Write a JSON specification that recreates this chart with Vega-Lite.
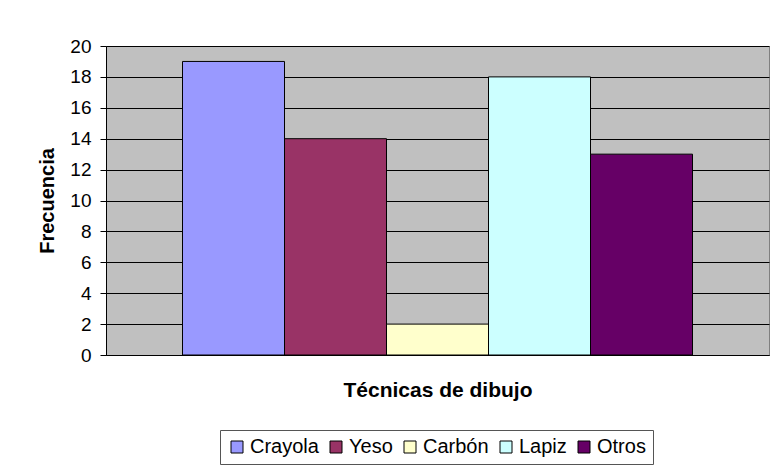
{
  "$schema": "https://vega.github.io/schema/vega-lite/v6.json",
  "width": 663,
  "height": 309,
  "autosize": "none",
  "padding": {"left": 106, "top": 46, "right": 4, "bottom": 112},
  "background": "white",
  "config": {
    "font": "Liberation Sans",
    "view": {"fill": "#C0C0C0", "stroke": "#808080", "strokeWidth": 1}
  },
  "data": {
    "values": [
      {"tecnica": "Crayola", "frecuencia": 19},
      {"tecnica": "Yeso", "frecuencia": 14},
      {"tecnica": "Carbón", "frecuencia": 2},
      {"tecnica": "Lapiz", "frecuencia": 18},
      {"tecnica": "Otros", "frecuencia": 13}
    ]
  },
  "mark": {"type": "bar", "stroke": "black", "strokeWidth": 1, "opacity": 1},
  "encoding": {
    "x": {
      "field": "tecnica",
      "type": "nominal",
      "sort": ["Crayola", "Yeso", "Carbón", "Lapiz", "Otros"],
      "scale": {"paddingInner": 0, "paddingOuter": 0.75},
      "axis": {
        "title": "Técnicas de dibujo",
        "titleFont": "Liberation Sans",
        "titleFontSize": 21,
        "titleFontWeight": "bold",
        "titleColor": "black",
        "titlePadding": 24,
        "labels": false,
        "ticks": false,
        "domainColor": "black",
        "domainWidth": 1
      }
    },
    "y": {
      "field": "frecuencia",
      "type": "quantitative",
      "scale": {"domain": [0, 20], "nice": false},
      "axis": {
        "title": "Frecuencia",
        "titleFont": "Liberation Sans",
        "titleFontSize": 20,
        "titleFontWeight": "bold",
        "titleColor": "black",
        "titlePadding": 12,
        "values": [0, 2, 4, 6, 8, 10, 12, 14, 16, 18, 20],
        "labelFont": "Liberation Sans",
        "labelFontSize": 19,
        "labelColor": "black",
        "labelPadding": 9,
        "tickSize": 6,
        "tickColor": "black",
        "domainColor": "black",
        "grid": true,
        "gridColor": "black",
        "gridOpacity": 1,
        "gridWidth": 1
      }
    },
    "color": {
      "field": "tecnica",
      "type": "nominal",
      "sort": ["Crayola", "Yeso", "Carbón", "Lapiz", "Otros"],
      "scale": {
        "domain": ["Crayola", "Yeso", "Carbón", "Lapiz", "Otros"],
        "range": ["#9999FF", "#993366", "#FFFFCC", "#CCFFFF", "#660066"]
      },
      "legend": {
        "title": null,
        "orient": "none",
        "direction": "horizontal",
        "legendX": 114,
        "legendY": 384,
        "padding": 7,
        "strokeColor": "#555555",
        "fillColor": "white",
        "symbolType": "square",
        "symbolSize": 144,
        "symbolStrokeColor": "black",
        "symbolStrokeWidth": 1,
        "symbolOpacity": 1,
        "labelFont": "Liberation Sans",
        "labelFontSize": 20,
        "labelColor": "black",
        "labelOffset": 3,
        "columnPadding": 7
      }
    }
  }
}
